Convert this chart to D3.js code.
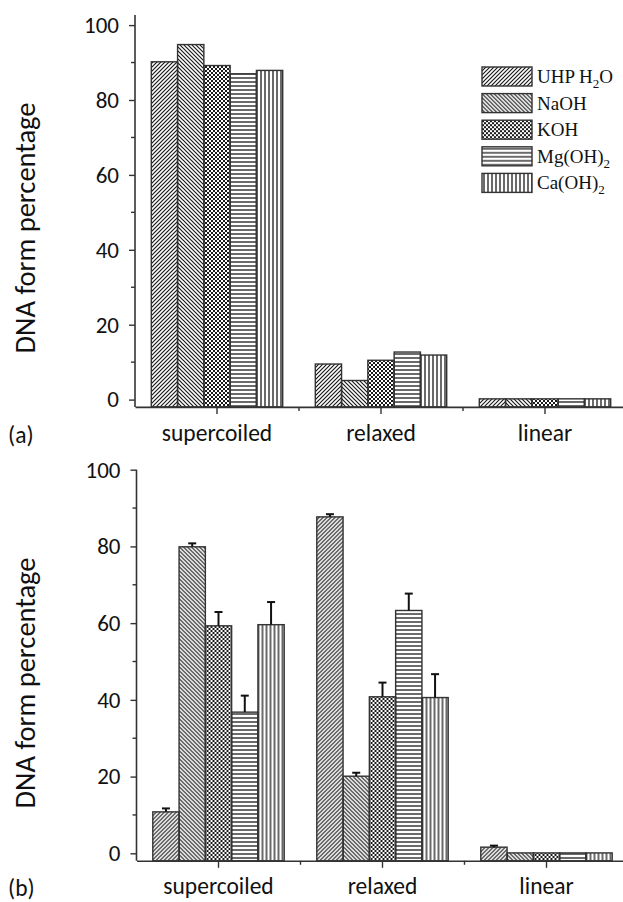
<!DOCTYPE html>
<html>
<head>
<meta charset="utf-8">
<script src="https://cdn.jsdelivr.net/npm/d3@7"></script>
<style>
    html, body { margin: 0; padding: 0; background: #fff; }
    svg { display: block; }
    .tick-label { font-family: Carlito, Calibri, Lato, sans-serif; font-size: 23px; fill: #111; }
    .cat-label { font-family: Carlito, Calibri, Lato, sans-serif; font-size: 23.5px; fill: #111; }
    .y-title { font-family: Carlito, Calibri, Lato, sans-serif; font-size: 28.5px; fill: #111; }
    .legend-label { font-family: "Liberation Serif", "Times New Roman", serif; font-size: 19px; fill: #111; }
</style>
</head>
<body>
<svg width="623" height="902"></svg>
<script>
var categories = ['supercoiled', 'relaxed', 'linear'];
var seriesNames = ['UHP H2O', 'NaOH', 'KOH', 'Mg(OH)2', 'Ca(OH)2'];
var yTicks = [0, 20, 40, 60, 80, 100];
var yMinorTicks = [10, 30, 50, 70, 90];

// panel (a): rows = categories, columns = series
var valuesA = [
    [90.2, 94.8, 89.2, 87.0, 87.9],
    [9.5, 5.1, 10.5, 12.7, 11.9],
    [0.2, 0.2, 0.2, 0.2, 0.2]
];

// panel (b) with upper error bars
var valuesB = [
    [10.8, 79.9, 59.3, 36.8, 59.6],
    [87.7, 20.1, 40.8, 63.3, 40.6],
    [1.6, 0.1, 0.1, 0.1, 0.1]
];
var errorsB = [
    [0.9, 0.9, 3.6, 4.3, 5.9],
    [0.7, 0.9, 3.7, 4.4, 6.1],
    [0.4, 0, 0, 0, 0]
];

var patternIds = ['pDiagUp', 'pDiagDown', 'pCheck', 'pHoriz', 'pVert'];

document.addEventListener('DOMContentLoaded', function () {
    var svg = d3.select('svg');
    var ink = '#1a1a1a';

    var defs = svg.append('defs');
    function makePattern(id) {
        return defs.append('pattern')
            .attr('id', id)
            .attr('patternUnits', 'userSpaceOnUse')
            .attr('width', 4)
            .attr('height', 4);
    }
    makePattern('pDiagUp').append('path')
        .attr('d', 'M-1,1 l2,-2 M0,4 l4,-4 M3,5 l2,-2')
        .attr('stroke', ink).attr('stroke-width', 1.2);
    makePattern('pDiagDown').append('path')
        .attr('d', 'M-1,3 l2,2 M0,0 l4,4 M3,-1 l2,2')
        .attr('stroke', ink).attr('stroke-width', 1.2);
    var chk = makePattern('pCheck');
    chk.append('rect').attr('x', 0).attr('y', 0).attr('width', 2).attr('height', 2).attr('fill', ink);
    chk.append('rect').attr('x', 2).attr('y', 2).attr('width', 2).attr('height', 2).attr('fill', ink);
    makePattern('pHoriz').append('path')
        .attr('d', 'M0,2 h4')
        .attr('stroke', ink).attr('stroke-width', 1.3);
    makePattern('pVert').append('path')
        .attr('d', 'M2,0 v4')
        .attr('stroke', ink).attr('stroke-width', 1.3);

    function drawPanel(opts) {
        var g = svg.append('g');

        var x = d3.scaleBand().domain(categories).range([opts.x0, opts.x0 + 492]);
        var xs = d3.scaleBand().domain(seriesNames).range([0, x.bandwidth()])
            .paddingInner(0).paddingOuter(0.62);
        var y = d3.scaleLinear().domain([0, 100]).range([opts.yZero, opts.yHundred]);
        var base = y(-1.95);

        // bars
        var groups = g.selectAll('.grp')
            .data(categories)
            .enter()
            .append('g')
            .attr('transform', function (d) { return 'translate(' + x(d) + ',0)'; });

        groups.each(function (cat, ci) {
            var row = seriesNames.map(function (s, si) {
                return { name: s, value: opts.values[ci][si], err: opts.errors ? opts.errors[ci][si] : 0, pid: patternIds[si] };
            });
            var grp = d3.select(this);
            grp.selectAll('rect')
                .data(row)
                .enter()
                .append('rect')
                .attr('x', function (d) { return xs(d.name); })
                .attr('width', xs.bandwidth())
                .attr('y', function (d) { return y(d.value); })
                .attr('height', function (d) { return base - y(d.value); })
                .attr('fill', function (d) { return 'url(#' + d.pid + ')'; })
                .attr('stroke', '#333')
                .attr('stroke-width', 1.4);

            if (opts.errors) {
                var eb = grp.selectAll('.err')
                    .data(row.filter(function (d) { return d.err > 0; }))
                    .enter()
                    .append('g')
                    .attr('stroke', '#111')
                    .attr('stroke-width', 2);
                eb.append('line')
                    .attr('x1', function (d) { return xs(d.name) + xs.bandwidth() / 2; })
                    .attr('x2', function (d) { return xs(d.name) + xs.bandwidth() / 2; })
                    .attr('y1', function (d) { return y(d.value); })
                    .attr('y2', function (d) { return y(d.value + d.err); });
                eb.append('line')
                    .attr('x1', function (d) { return xs(d.name) + xs.bandwidth() / 2 - 4; })
                    .attr('x2', function (d) { return xs(d.name) + xs.bandwidth() / 2 + 4; })
                    .attr('y1', function (d) { return y(d.value + d.err); })
                    .attr('y2', function (d) { return y(d.value + d.err); });
            }
        });

        // y axis
        var yAxis = g.append('g')
            .attr('transform', 'translate(' + opts.x0 + ',0)')
            .call(d3.axisLeft(y).tickValues(yTicks).tickSize(6).tickSizeOuter(0).tickPadding(10));
        yAxis.select('.domain').remove();
        yAxis.selectAll('.tick line').attr('stroke', '#333').attr('stroke-width', 1.4);
        yAxis.selectAll('.tick text').attr('class', 'tick-label').attr('font-family', null).attr('font-size', null);
        yAxis.selectAll('.minor')
            .data(yMinorTicks)
            .enter()
            .append('line')
            .attr('x1', -4).attr('x2', 0)
            .attr('y1', function (d) { return y(d); })
            .attr('y2', function (d) { return y(d); })
            .attr('stroke', '#333').attr('stroke-width', 1.4);
        yAxis.append('line')
            .attr('x1', 0).attr('x2', 0)
            .attr('y1', opts.axisTop).attr('y2', base)
            .attr('stroke', '#333').attr('stroke-width', 1.6);

        // x axis
        var xAxis = g.append('g')
            .attr('transform', 'translate(0,' + base + ')')
            .call(d3.axisBottom(x).tickSize(7).tickSizeOuter(0).tickPadding(10));
        xAxis.select('.domain').attr('stroke', '#333').attr('stroke-width', 1.6);
        xAxis.selectAll('.tick line').attr('stroke', '#333').attr('stroke-width', 1.4);
        xAxis.selectAll('.tick text').attr('class', 'cat-label').attr('font-family', null).attr('font-size', null);
        xAxis.selectAll('.minor')
            .data(categories.slice(1))
            .enter()
            .append('line')
            .attr('x1', function (d) { return x(d); })
            .attr('x2', function (d) { return x(d); })
            .attr('y1', 0).attr('y2', 4)
            .attr('stroke', '#333').attr('stroke-width', 1.4);

        // y title and panel letter
        g.append('text')
            .attr('class', 'y-title')
            .attr('transform', 'translate(35,' + opts.titleY + ') rotate(-90)')
            .attr('text-anchor', 'middle')
            .text('DNA form percentage');
        g.append('text')
            .attr('class', 'cat-label')
            .attr('x', 8)
            .attr('y', opts.letterY)
            .text(opts.letter);

        return g;
    }

    drawPanel({ values: valuesA, errors: null, x0: 135, yZero: 399.6, yHundred: 25.1, axisTop: 15, titleY: 228, letter: '(a)', letterY: 443 });
    drawPanel({ values: valuesB, errors: errorsB, x0: 136.5, yZero: 853.3, yHundred: 469.7, axisTop: 469.7, titleY: 683, letter: '(b)', letterY: 896 });

    // legend in panel (a)
    var legend = svg.append('g').attr('transform', 'translate(482,67)');
    var item = legend.selectAll('.item')
        .data(seriesNames)
        .enter()
        .append('g')
        .attr('transform', function (d, i) { return 'translate(0,' + (i * 26.6) + ')'; });
    item.append('rect')
        .attr('width', 50)
        .attr('height', 19)
        .attr('fill', function (d, i) { return 'url(#' + patternIds[i] + ')'; })
        .attr('stroke', '#333')
        .attr('stroke-width', 1.4);
    item.each(function (d) {
        var t = d3.select(this).append('text')
            .attr('class', 'legend-label')
            .attr('x', 55)
            .attr('y', 16);
        var m = d.match(/^(.*?)2(.*)$/);
        if (!m) {
            t.text(d);
            return;
        }
        t.append('tspan').text(m[1]);
        t.append('tspan').attr('dy', 5).attr('font-size', 13).text('2');
        if (m[2]) t.append('tspan').attr('dy', -5).text(m[2]);
    });
});
</script>
</body>
</html>
